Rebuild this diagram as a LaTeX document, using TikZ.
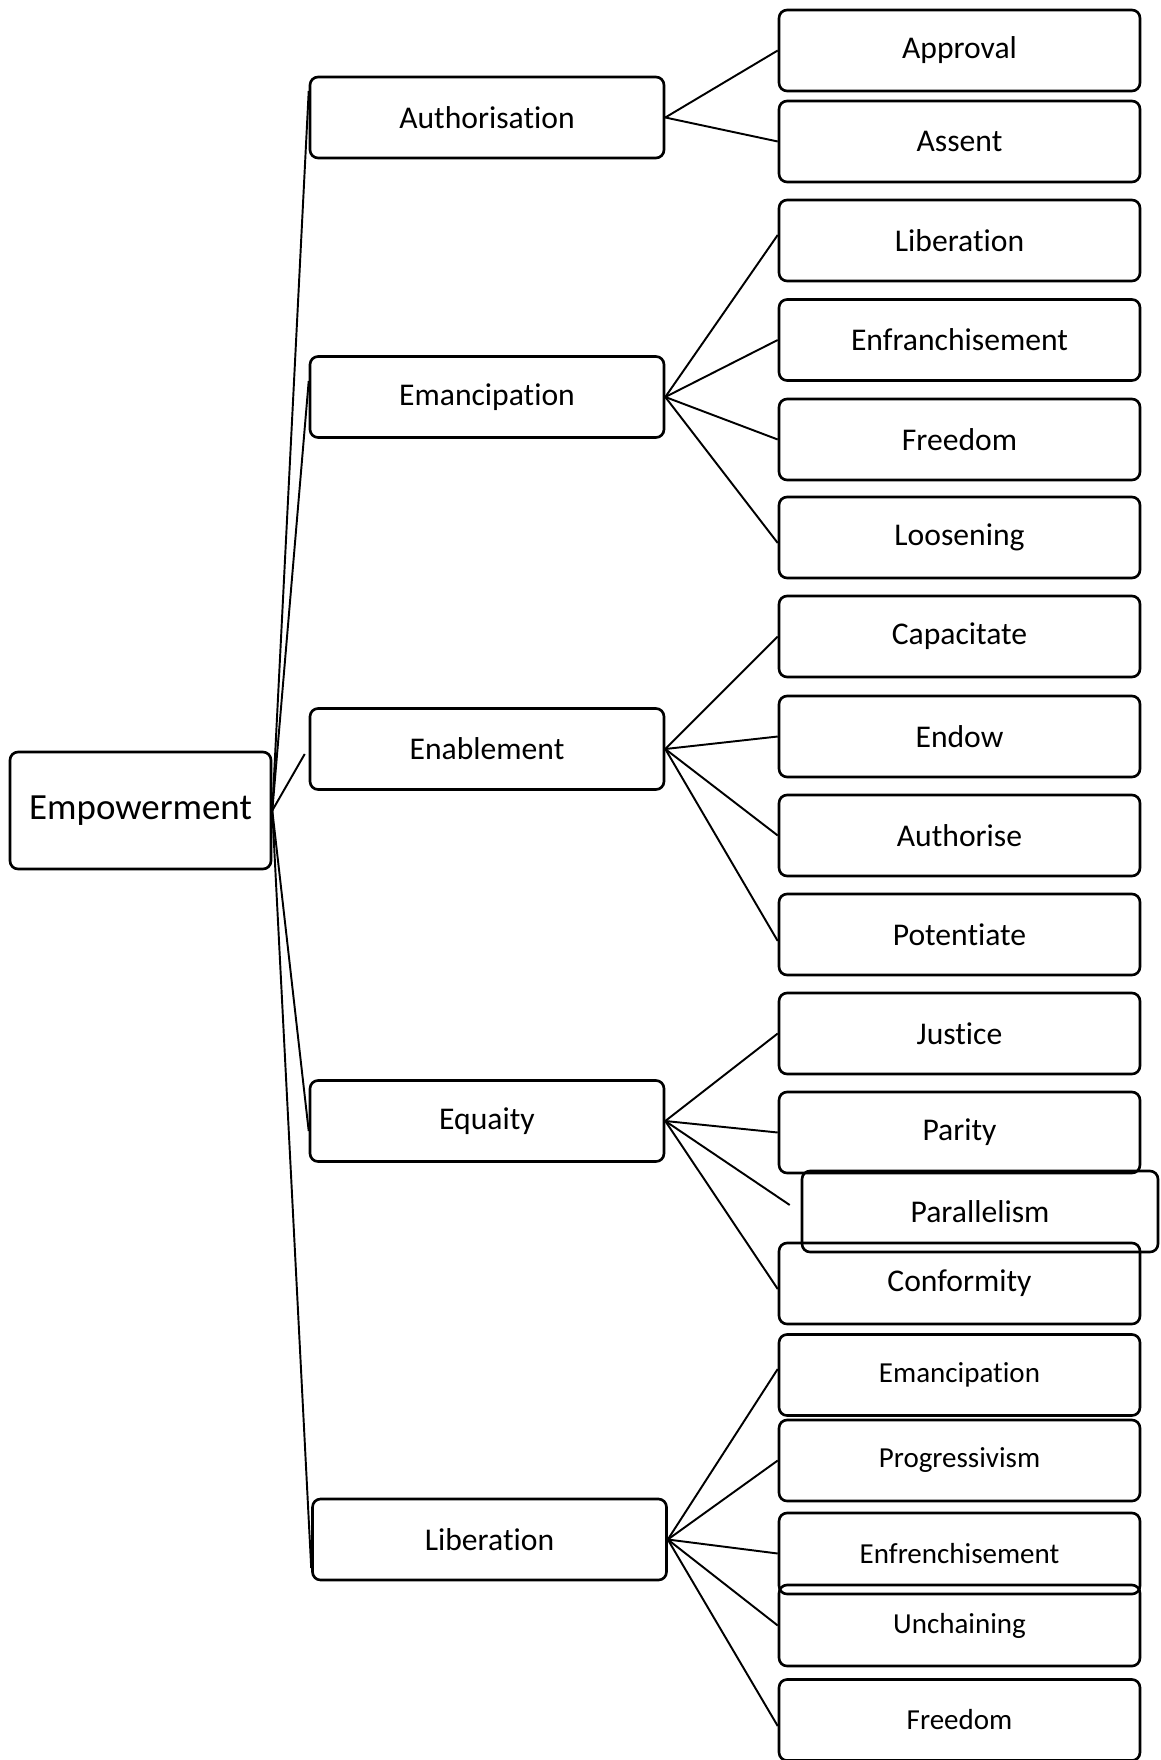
\documentclass[tikz,border=0pt]{standalone}
\usepackage{fontspec}
\setmainfont[Ligatures=NoCommon]{Carlito}
\begin{document}
\begin{tikzpicture}[x=0.02cm,y=-0.02cm]
	\tikzset{boite/.style={draw,line width=1.5pt,rounded corners=0.16cm,inner sep=0pt,font=\fontsize{18pt}{21pt}\selectfont},
		racine/.style={boite,minimum width=5.22cm,minimum height=2.34cm,font=\fontsize{21pt}{25pt}\selectfont},
		branche/.style={boite,minimum width=7.08cm,minimum height=1.62cm},
		feuille/.style={boite,minimum width=7.22cm,minimum height=1.62cm},
		petite/.style={font=\fontsize{16.5pt}{19pt}\selectfont}}
	\tikzstyle{lien}=[-,line width=1.1pt]
	\useasboundingbox (0,0) rectangle (1160,1760);
	\node[racine] (emp) at (140.5,810.5) {Empowerment};
	\node[branche] (auth) at (487,117.5) {Authorisation};
	\node[branche] (eman) at (487,397) {Emancipation};
	\node[branche] (enab) at (487,749) {Enablement};
	\node[branche] (equa) at (487,1121) {Equaity};
	\node[branche] (libe) at (489.5,1539.5) {Liberation};
	\node[feuille] (appr) at (959.5,50.5) {Approval};
	\node[feuille] (asse) at (959.5,141.5) {Assent};
	\node[feuille] (libr) at (959.5,240.5) {Liberation};
	\node[feuille] (enfr) at (959.5,340) {Enfranchisement};
	\node[feuille] (free) at (959.5,439.5) {Freedom};
	\node[feuille] (loos) at (959.5,537.5) {Loosening};
	\node[feuille] (capa) at (959.5,636.5) {Capacitate};
	\node[feuille] (endo) at (959.5,736.5) {Endow};
	\node[feuille] (autr) at (959.5,835.5) {Authorise};
	\node[feuille] (pote) at (959.5,934.5) {Potentiate};
	\node[feuille] (just) at (959.5,1033.5) {Justice};
	\node[feuille] (pari) at (959.5,1132.5) {Parity};
	\node[feuille,minimum width=7.12cm] (para) at (980,1211.5) {Parallelism};
	\node[feuille] (conf) at (959.5,1283.5) {Conformity};
	\node[feuille,petite] (emnc) at (959.5,1375) {Emancipation};
	\node[feuille,petite] (prog) at (959.5,1460.5) {Progressivism};
	\node[feuille,petite] (enfc) at (959.5,1553.5) {Enfrenchisement};
	\node[feuille,petite] (unch) at (959.5,1625.5) {Unchaining};
	\node[feuille,petite] (fre2) at (959.5,1720) {Freedom};
	\draw[lien] (emp.east) -- ([yshift=0.53cm]auth.west);
	\draw[lien] (emp.east) -- ([yshift=0.32cm]eman.west);
	\draw[lien] (emp.east) -- ([xshift=-0.08cm,yshift=-0.1cm]enab.west);
	\draw[lien] (emp.east) -- ([yshift=-0.2cm]equa.west);
	\draw[lien] (emp.east) -- ([yshift=-0.57cm]libe.west);
	\draw[lien] (auth.east) -- (appr.west);
	\draw[lien] (auth.east) -- (asse.west);
	\draw[lien] (eman.east) -- ([yshift=0.11cm]libr.west);
	\draw[lien] (eman.east) -- (enfr.west);
	\draw[lien] (eman.east) -- (free.west);
	\draw[lien] (eman.east) -- ([yshift=-0.11cm]loos.west);
	\draw[lien] (enab.east) -- (capa.west);
	\draw[lien] (enab.east) -- (endo.west);
	\draw[lien] (enab.east) -- (autr.west);
	\draw[lien] (enab.east) -- ([yshift=-0.13cm]pote.west);
	\draw[lien] (equa.east) -- (just.west);
	\draw[lien] (equa.east) -- (pari.west);
	\draw[lien] (equa.east) -- ([xshift=-0.22cm,yshift=0.13cm]para.west);
	\draw[lien] (equa.east) -- ([yshift=-0.11cm]conf.west);
	\draw[lien] (libe.east) -- ([yshift=0.12cm]emnc.west);
	\draw[lien] (libe.east) -- (prog.west);
	\draw[lien] (libe.east) -- (enfc.west);
	\draw[lien] (libe.east) -- (unch.west);
	\draw[lien] (libe.east) -- ([yshift=-0.12cm]fre2.west);
\end{tikzpicture}
\end{document}
